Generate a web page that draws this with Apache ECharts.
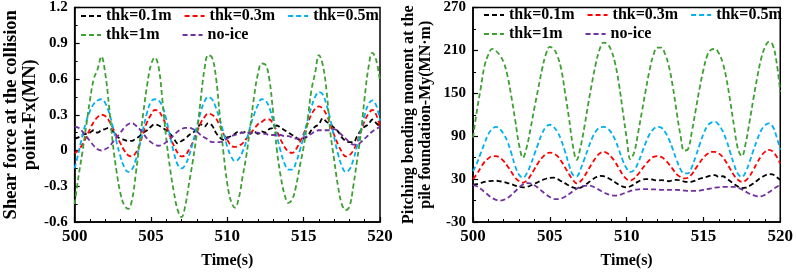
<!DOCTYPE html>
<html>
<head>
<meta charset="utf-8">
<script src="https://cdn.jsdelivr.net/npm/echarts@6/dist/echarts.min.js"></script>
<style>
  html, body { margin: 0; padding: 0; background: #fff; }
  #chart { width: 796px; height: 274px; }
</style>
</head>
<body>
<div id="chart"></div>
<script>
// time axis (s), 0.25 s step
const time = [
  500, 500.25, 500.5, 500.75, 501, 501.25, 501.5, 501.75,
  502, 502.25, 502.5, 502.75, 503, 503.25, 503.5, 503.75,
  504, 504.25, 504.5, 504.75, 505, 505.25, 505.5, 505.75,
  506, 506.25, 506.5, 506.75, 507, 507.25, 507.5, 507.75,
  508, 508.25, 508.5, 508.75, 509, 509.25, 509.5, 509.75,
  510, 510.25, 510.5, 510.75, 511, 511.25, 511.5, 511.75,
  512, 512.25, 512.5, 512.75, 513, 513.25, 513.5, 513.75,
  514, 514.25, 514.5, 514.75, 515, 515.25, 515.5, 515.75,
  516, 516.25, 516.5, 516.75, 517, 517.25, 517.5, 517.75,
  518, 518.25, 518.5, 518.75, 519, 519.25, 519.5, 519.75,
  520
];

const seriesNames = ['thk=0.1m', 'thk=0.3m', 'thk=0.5m', 'thk=1m', 'no-ice'];
const seriesColors = ['#000000', '#ff0000', '#00b0f0', '#3ea032', '#7030a0'];

// left: shear force at the collision point Fx (MN)
const shearThk01 = [
  0.10, 0.11, 0.13, 0.14, 0.15, 0.17, 0.15, 0.17,
  0.18, 0.19, 0.16, 0.12, 0.10, 0.09, 0.08, 0.08,
  0.10, 0.12, 0.15, 0.17, 0.20, 0.22, 0.21, 0.19,
  0.17, 0.14, 0.10, 0.06, 0.08, 0.10, 0.13, 0.15,
  0.18, 0.22, 0.20, 0.23, 0.21, 0.15, 0.11, 0.09,
  0.11, 0.12, 0.14, 0.16, 0.15, 0.16, 0.14, 0.16,
  0.14, 0.16, 0.15, 0.18, 0.19, 0.21, 0.19, 0.17,
  0.15, 0.13, 0.11, 0.09, 0.10, 0.12, 0.17, 0.20,
  0.22, 0.27, 0.24, 0.22, 0.19, 0.16, 0.11, 0.08,
  0.07, 0.07, 0.12, 0.17, 0.20, 0.22, 0.26, 0.23,
  0.20
];
const shearThk03 = [
  -0.02, 0.00, 0.05, 0.11, 0.18, 0.24, 0.28, 0.30,
  0.29, 0.25, 0.19, 0.12, 0.06, 0.00, -0.04, -0.05,
  -0.02, 0.05, 0.15, 0.24, 0.30, 0.34, 0.33, 0.28,
  0.21, 0.12, 0.04, -0.02, -0.05, -0.04, 0.01, 0.07,
  0.15, 0.23, 0.28, 0.31, 0.30, 0.27, 0.21, 0.14,
  0.09, 0.04, 0.03, 0.04, 0.06, 0.10, 0.14, 0.18,
  0.22, 0.24, 0.26, 0.26, 0.22, 0.16, 0.09, 0.03,
  -0.01, -0.02, 0.01, 0.07, 0.14, 0.22, 0.30, 0.35,
  0.37, 0.35, 0.30, 0.22, 0.13, 0.05, -0.01, -0.05,
  -0.04, 0.00, 0.07, 0.16, 0.25, 0.31, 0.34, 0.30,
  0.20
];
const shearThk05 = [
  -0.15, -0.02, 0.12, 0.24, 0.33, 0.39, 0.42, 0.43,
  0.40, 0.32, 0.20, 0.07, -0.05, -0.14, -0.18, -0.16,
  -0.08, 0.04, 0.19, 0.32, 0.41, 0.43, 0.42, 0.37,
  0.26, 0.12, -0.02, -0.12, -0.15, -0.12, -0.04, 0.07,
  0.20, 0.32, 0.41, 0.45, 0.43, 0.36, 0.26, 0.15,
  0.03, -0.05, -0.09, -0.07, -0.01, 0.08, 0.20, 0.30,
  0.38, 0.43, 0.42, 0.36, 0.25, 0.12, -0.01, -0.11,
  -0.16, -0.16, -0.10, 0.00, 0.12, 0.25, 0.36, 0.45,
  0.49, 0.47, 0.38, 0.26, 0.11, -0.03, -0.13, -0.18,
  -0.16, -0.08, 0.04, 0.17, 0.30, 0.39, 0.42, 0.38,
  0.25
];
const shearThk1 = [
  -0.45, -0.22, -0.02, 0.20, 0.42, 0.60, 0.68, 0.79,
  0.65, 0.38, 0.06, -0.18, -0.36, -0.46, -0.49, -0.42,
  -0.20, 0.06, 0.32, 0.55, 0.72, 0.78, 0.70, 0.42,
  0.10, -0.15, -0.35, -0.50, -0.56, -0.46, -0.27, -0.08,
  0.14, 0.42, 0.68, 0.80, 0.78, 0.62, 0.30, -0.02,
  -0.28, -0.43, -0.48, -0.40, -0.22, -0.04, 0.20, 0.45,
  0.64, 0.73, 0.72, 0.60, 0.32, 0.00, -0.22, -0.37,
  -0.44, -0.41, -0.30, -0.13, 0.03, 0.25, 0.50, 0.65,
  0.80, 0.72, 0.50, 0.15, -0.08, -0.30, -0.45, -0.50,
  -0.47, -0.30, -0.08, 0.15, 0.45, 0.70, 0.82, 0.76,
  0.58
];
const shearNoIce = [
  0.20, 0.19, 0.16, 0.12, 0.08, 0.04, 0.01, 0.00,
  0.01, 0.03, 0.07, 0.11, 0.15, 0.19, 0.22, 0.23,
  0.21, 0.18, 0.14, 0.10, 0.07, 0.05, 0.04, 0.05,
  0.07, 0.10, 0.13, 0.16, 0.18, 0.19, 0.19, 0.18,
  0.16, 0.13, 0.11, 0.09, 0.07, 0.07, 0.07, 0.08,
  0.10, 0.12, 0.13, 0.14, 0.15, 0.15, 0.15, 0.15,
  0.15, 0.14, 0.14, 0.13, 0.13, 0.13, 0.13, 0.12,
  0.12, 0.11, 0.10, 0.10, 0.11, 0.12, 0.14, 0.16,
  0.17, 0.17, 0.17, 0.17, 0.18, 0.16, 0.13, 0.10,
  0.07, 0.05, 0.05, 0.07, 0.10, 0.13, 0.16, 0.18,
  0.20
];

// right: pitching bending moment at the pile foundation My (MN·m)
const momentThk01 = [
  22, 23, 24.5, 26, 27, 27.5, 27.7, 27,
  26, 24.5, 23, 21, 19.5, 18.5, 19, 21,
  23.5, 26, 28.5, 30.5, 31.8, 32, 30, 27,
  24, 21, 18.5, 17, 18, 21, 25, 29,
  32.5, 34.5, 34, 32, 29, 25.5, 22, 19.5,
  18.5, 20, 23, 26.5, 29, 30, 30, 29,
  28, 28.5, 28, 27, 28.5, 29, 28, 26.5,
  26, 26.5, 28, 30.5, 32, 33.5, 35, 35.5,
  33, 34, 31, 27, 23, 19.5, 17.5, 18,
  20.5, 24, 28, 32, 35, 37, 36.5, 33,
  29
];
const momentThk03 = [
  30, 37, 46, 54, 59, 62, 62, 60,
  55, 48, 40, 32, 27, 25, 28, 35,
  44, 53, 60, 65, 67, 66, 62, 55,
  46, 37, 29, 24, 27, 34, 43, 52,
  60, 66, 68, 66, 61, 54, 45, 36,
  30, 28, 31, 37, 44, 51, 57, 61,
  62, 61, 57, 51, 44, 37, 33, 31,
  32, 37, 45, 53, 60, 65, 68, 68,
  66, 61, 53, 44, 35, 29, 26, 28,
  34, 43, 53, 62, 68, 71, 69, 62,
  52
];
const momentThk05 = [
  41, 52, 66, 80, 93, 100, 103, 100,
  93, 82, 66, 48, 36, 32, 38, 50,
  65, 80, 94, 103, 106, 103, 96, 84,
  68, 50, 36, 34, 44, 58, 73, 87,
  97, 102, 103, 101, 95, 85, 71, 56,
  45, 40, 43, 53, 67, 81, 93, 100,
  103, 102, 96, 86, 72, 57, 44, 38,
  38, 47, 62, 78, 93, 104, 109, 110,
  106, 97, 84, 67, 50, 37, 33, 40,
  54, 70, 85, 98, 105, 108, 104, 90,
  71
];
const momentThk1 = [
  88, 125, 157, 188, 204, 212, 209, 203,
  193, 174, 145, 112, 78, 60, 75, 101,
  130, 157, 184, 205, 215, 212, 202, 183,
  150, 115, 77, 57, 75, 103, 135, 165,
  192, 212, 221, 219, 210, 192, 163, 125,
  88, 58, 68, 95, 125, 155, 183, 204,
  214, 214, 205, 188, 160, 125, 92, 70,
  72, 97, 127, 157, 183, 203, 211, 212,
  206, 193, 170, 138, 103, 72, 62, 80,
  110, 142, 172, 198, 214, 222, 218, 195,
  152
];
const momentNoIce = [
  21.5, 20, 16.5, 12, 7.5, 3.5, 1, 0,
  1, 3.5, 8, 13, 18.5, 22.5, 24.5, 24,
  21.5, 17.5, 13, 8.5, 5, 2.5, 2, 3,
  5.5, 9, 13, 16.5, 19, 20.5, 21, 20,
  17.5, 14.5, 11.5, 9, 7.5, 7, 7.5, 9.5,
  11.5, 13.5, 15, 15.5, 16, 16, 16, 15.5,
  15.5, 15, 15, 15, 15, 15, 14.5, 14,
  13.5, 13.5, 13.5, 14, 15, 16, 17, 18,
  18.5, 19, 19, 19, 19, 18, 15.5, 12.5,
  9.5, 7.5, 6, 6, 8, 11.5, 15, 19,
  22
];

const shearSeries = [shearThk01, shearThk03, shearThk05, shearThk1, shearNoIce];
const momentSeries = [momentThk01, momentThk03, momentThk05, momentThk1, momentNoIce];

const FONT = 'Liberation Serif';

const chart = echarts.init(document.getElementById('chart'));

function makeSeries(list, idx) {
  return list.map((vals, i) => ({
    name: seriesNames[i],
    type: 'line',
    xAxisIndex: idx,
    yAxisIndex: idx,
    symbol: 'none',
    smooth: 0.4,
    data: time.map((t, k) => [t, vals[k]]),
    lineStyle: { color: seriesColors[i], width: 1.8, type: [5, 3] },
    itemStyle: { color: seriesColors[i] },
    z: 2
  }));
}

function xAxisCfg(idx) {
  return {
    type: 'value', gridIndex: idx, min: 500, max: 520, interval: 5,
    name: 'Time(s)', nameLocation: 'middle', nameGap: 31,
    nameTextStyle: { fontFamily: FONT, fontWeight: 'bold', fontSize: 16, color: '#000' },
    axisLine: { onZero: false, lineStyle: { color: '#000', width: 1.5 } },
    axisTick: { inside: true, length: 5, lineStyle: { color: '#000', width: 1.2 } },
    minorTick: { show: true, splitNumber: 5, length: 3, lineStyle: { color: '#000', width: 1 } },
    axisLabel: { fontFamily: FONT, fontWeight: 'bold', fontSize: 17, color: '#000', margin: 6 },
    splitLine: { show: false }
  };
}

function yAxisCfg(idx, min, max, interval, name, gap, nameSize, fmt) {
  return {
    type: 'value', gridIndex: idx, min: min, max: max, interval: interval,
    name: name, nameLocation: 'middle', nameGap: gap, nameRotate: 90,
    nameTextStyle: { fontFamily: FONT, fontWeight: 'bold', fontSize: nameSize, lineHeight: nameSize + 1, color: '#000' },
    axisLine: { onZero: false, lineStyle: { color: '#000', width: 1.5 } },
    axisTick: { inside: true, length: 5, lineStyle: { color: '#000', width: 1.2 } },
    minorTick: { show: true, splitNumber: 2, length: 3, lineStyle: { color: '#000', width: 1 } },
    axisLabel: { fontFamily: FONT, fontWeight: 'bold', fontSize: 15, color: '#000', margin: 7, formatter: fmt },
    splitLine: { show: false }
  };
}

function legendRow(left, top, names, gap) {
  return {
    left: left, top: top, orient: 'horizontal', padding: 0,
    data: names, itemWidth: 20, itemHeight: 12, itemGap: gap,
    itemStyle: { opacity: 0 },
    textStyle: { fontFamily: FONT, fontWeight: 'bold', fontSize: 16, color: '#000' },
    selectedMode: false
  };
}

const option = {
  animation: false,
  backgroundColor: '#fff',
  grid: [
    { left: 69, top: 7, width: 311, height: 219, show: true, borderColor: '#000', borderWidth: 1.5 },
    { left: 473, top: 7, width: 311, height: 218, show: true, borderColor: '#000', borderWidth: 1.5 }
  ],
  legend: [
    legendRow(80, 8, seriesNames.slice(0, 3), 12),
    legendRow(80, 27, seriesNames.slice(3), 22),
    legendRow(483, 7, seriesNames.slice(0, 3), 12),
    legendRow(483, 26, seriesNames.slice(3), 22)
  ],
  xAxis: [xAxisCfg(0), xAxisCfg(1)],
  yAxis: [
    yAxisCfg(0, -0.6, 1.2, 0.3, 'Shear force at the collision\npoint-Fx(MN)', 34, 18.5,
      v => (Math.abs(v) < 1e-9 ? '0' : v.toFixed(1))),
    yAxisCfg(1, -30, 270, 60, 'Pitching bending moment at the\npile foundation-My(MN\u00b7m)', 39, 16,
      v => String(Math.round(v)))
  ],
  series: makeSeries(shearSeries, 0).concat(makeSeries(momentSeries, 1))
};

chart.setOption(option);
</script>
</body>
</html>
